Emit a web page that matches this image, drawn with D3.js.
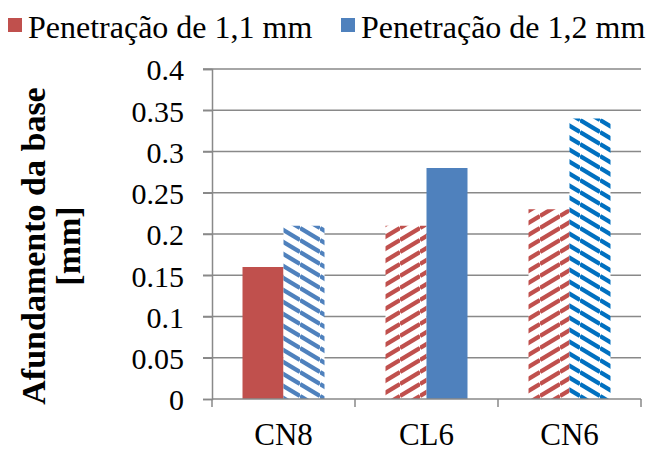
<!DOCTYPE html>
<html>
<head>
<meta charset="utf-8">
<script src="https://cdn.jsdelivr.net/npm/d3@7"></script>
<style>
  html, body { margin: 0; padding: 0; background: #fff; }
  svg { display: block; }
</style>
</head>
<body>
<svg id="chart" width="651" height="451"></svg>
<script>
// Data
const categories = ["CN8", "CL6", "CN6"];
const seriesNames = ["Penetração de 1,1 mm", "Penetração de 1,2 mm"];
const pen11 = [0.16, 0.21, 0.23];
const pen12 = [0.21, 0.28, 0.34];
const yTicks = [0, 0.05, 0.1, 0.15, 0.2, 0.25, 0.3, 0.35, 0.4];
const yTickLabels = ["0", "0.05", "0.1", "0.15", "0.2", "0.25", "0.3", "0.35", "0.4"];

// Fill style for each bar (series x category)
const fillStyles = [
  ["solid", "hatchUp", "hatchUp"],
  ["hatchDown", "solid", "hatchDownDark"]
];
const seriesColors = ["#C0504D", "#4F81BD"];
const darkBlue = "#0070C0";
const serif = "'Liberation Serif', 'Times New Roman', Times, serif";

const svg = d3.select("#chart");
const plotLeft = 212, plotRight = 641, plotTop = 69, plotBottom = 399;

const y = d3.scaleLinear().domain([0, 0.4]).range([plotBottom, plotTop]);
const x0 = d3.scaleBand().domain(categories).range([plotLeft, plotRight]).padding(0);
const x1 = d3.scaleBand().domain([0, 1]).range([0, x0.bandwidth()])
  .paddingInner(0).paddingOuter(0.744);

// Hatch patterns
const defs = svg.append("defs");
function hatch(id, color, dir) {
  const p = defs.append("pattern").attr("id", id)
    .attr("patternUnits", "userSpaceOnUse")
    .attr("width", 20).attr("height", 12);
  p.append("rect").attr("width", 20).attr("height", 12).attr("fill", "#fff");
  const segs = dir === "down"
    ? [[0, 0, 20, 12], [0, -12, 20, 0], [0, 12, 20, 24]]
    : [[0, 12, 20, 0], [0, 0, 20, -12], [0, 24, 20, 12]];
  segs.forEach(s => p.append("line")
    .attr("x1", s[0]).attr("y1", s[1]).attr("x2", s[2]).attr("y2", s[3])
    .attr("stroke", color).attr("stroke-width", 4.3));
}
hatch("hatchUpRed", seriesColors[0], "up");
hatch("hatchDownBlue", seriesColors[1], "down");
hatch("hatchDownDark", darkBlue, "down");

function fillFor(si, ci) {
  const s = fillStyles[si][ci];
  if (s === "solid") return seriesColors[si];
  if (s === "hatchUp") return "url(#hatchUpRed)";
  if (s === "hatchDown") return "url(#hatchDownBlue)";
  return "url(#hatchDownDark)";
}

const gridColor = "#898989";

// Gridlines
svg.append("g").selectAll("line").data(yTicks.filter(d => d > 0)).join("line")
  .attr("x1", plotLeft - 9).attr("x2", plotRight)
  .attr("y1", d => y(d)).attr("y2", d => y(d))
  .attr("stroke", gridColor).attr("stroke-width", 1.5);

// Y axis
const yAxis = d3.axisLeft(y).tickValues(yTicks)
  .tickFormat((d, i) => yTickLabels[i]).tickSize(9).tickPadding(19);
const gy = svg.append("g").attr("transform", `translate(${plotLeft},0)`).call(yAxis);
gy.attr("font-family", null);
gy.select(".domain").attr("stroke", gridColor).attr("stroke-width", 1.5);
gy.selectAll(".tick line").attr("stroke", gridColor).attr("stroke-width", 1.5);
gy.selectAll(".tick text")
  .style("font-family", serif).style("font-size", "30px")
  .attr("fill", "#000").attr("dy", "0.36em");

// Bars
const series = [pen11, pen12];
series.forEach((vals, si) => {
  svg.append("g").selectAll("rect").data(vals).join("rect")
    .attr("x", (d, ci) => x0(categories[ci]) + x1(si))
    .attr("width", x1.bandwidth())
    .attr("y", d => y(d))
    .attr("height", d => y(0) - y(d))
    .attr("fill", (d, ci) => fillFor(si, ci));
});

// X axis
const xTickPos = [plotLeft].concat(categories.map(c => x0(c) + x0.bandwidth()));
const gx = svg.append("g");
gx.append("line").attr("x1", plotLeft).attr("x2", plotRight)
  .attr("y1", plotBottom).attr("y2", plotBottom)
  .attr("stroke", gridColor).attr("stroke-width", 1.5);
gx.selectAll("line.tk").data(xTickPos).join("line").attr("class", "tk")
  .attr("x1", d => d).attr("x2", d => d)
  .attr("y1", plotBottom).attr("y2", plotBottom + 8)
  .attr("stroke", gridColor).attr("stroke-width", 1.5);
gx.selectAll("text").data(categories).join("text")
  .attr("x", d => x0(d) + x0.bandwidth() / 2)
  .attr("y", 445)
  .attr("text-anchor", "middle")
  .style("font-family", serif).style("font-size", "31px")
  .text(d => d);

// Y axis title
const title = svg.append("text")
  .attr("transform", "translate(45,246) rotate(-90)")
  .attr("text-anchor", "middle")
  .style("font-family", serif).style("font-weight", "bold").style("font-size", "34px");
title.append("tspan").attr("x", 0).attr("y", 0).text("Afundamento da base");
title.append("tspan").attr("x", 0).attr("y", 35).text("[mm]");

// Legend
const legendX = [8, 341];
seriesNames.forEach((name, i) => {
  svg.append("rect").attr("x", legendX[i]).attr("y", 18)
    .attr("width", 14).attr("height", 14).attr("fill", seriesColors[i]);
  svg.append("text").attr("x", legendX[i] + 20).attr("y", 38)
    .style("font-family", serif).style("font-size", "32px").text(name);
});
</script>
</body>
</html>
